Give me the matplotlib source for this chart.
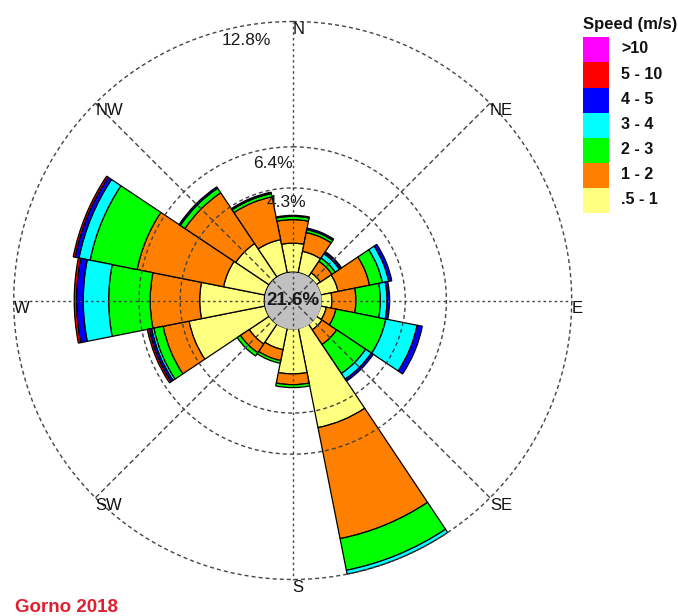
import numpy as np
import matplotlib
matplotlib.use("Agg")
import matplotlib.pyplot as plt
from matplotlib.patches import Rectangle

plt.rcParams['font.family'] = ['Liberation Sans', 'DejaVu Sans']

# ---- wind rose data: frequency (%) per direction sector and speed class ----
directions = ["N", "NNE", "NE", "ENE", "E", "ESE", "SE", "SSE",
              "S", "SSW", "SW", "WSW", "W", "WNW", "NW", "NNW"]
freq_05_1 = [1.48, 1.11, 0.25, 0.91, 0.55, 0.30, 0.35, 5.17,
             2.30, 1.11, 1.22, 3.95, 3.30, 2.15, 2.05, 1.72]
freq_1_2 = [1.20, 0.98, 0.71, 1.64, 1.23, 0.50, 0.90, 5.78,
            0.55, 0.57, 0.54, 1.35, 2.53, 4.50, 3.12, 2.23]
freq_2_3 = [0.17, 0.15, 0.20, 0.67, 1.25, 2.60, 1.78, 1.65,
            0.15, 0.14, 0.20, 0.48, 2.12, 2.45, 0.28, 0.17]
freq_3_4 = [0.00, 0.00, 0.26, 0.33, 0.34, 1.63, 0.35, 0.20,
            0.00, 0.00, 0.00, 0.12, 1.30, 0.58, 0.00, 0.00]
freq_4_5 = [0.05, 0.08, 0.10, 0.16, 0.13, 0.27, 0.12, 0.00,
            0.00, 0.00, 0.00, 0.12, 0.34, 0.20, 0.08, 0.07]
freq_5_10 = [0.00, 0.00, 0.03, 0.00, 0.00, 0.00, 0.00, 0.00,
             0.00, 0.00, 0.00, 0.10, 0.12, 0.10, 0.00, 0.00]
freq_gt10 = [0.00] * 16
calm_pct = 21.6
ring_values = [4.3, 6.4, 12.8]
compass_labels = ["N", "NE", "E", "SE", "S", "SW", "W", "NW"]
speed_labels = [">10", "5 - 10", "4 - 5", "3 - 4", "2 - 3", "1 - 2", ".5 - 1"]
speed_colors = ["#ff00ff", "#ff0000", "#0000ff", "#00ffff",
                "#00ff00", "#ff8000", "#ffff80"]
title_text = "Gorno 2018"

# ---- figure / polar axes geometry ----
W, H = 678, 616
fig = plt.figure(figsize=(W / 100, H / 100), dpi=100)
calm_r = 1.45                       # radius of the calm disc (in % units)
r_outer = calm_r + ring_values[-1]  # outermost ring
cx, cy, R_px = 292.7, 300.5, 279.0  # centre and outer-ring radius in pixels
lim = 15.0
R_ax = R_px * lim / r_outer
ax = fig.add_axes([(cx - R_ax) / W, (H - cy - R_ax) / H, 2 * R_ax / W, 2 * R_ax / H],
                  projection='polar')
ax.set_theta_zero_location('N')
ax.set_theta_direction(-1)
ax.set_ylim(0, lim)
ax.set_axis_off()

# ---- stacked sector bars ----
theta = np.deg2rad(np.arange(len(directions)) * 22.5)
width = np.deg2rad(22.5)
classes_inner_to_outer = [freq_05_1, freq_1_2, freq_2_3, freq_3_4,
                          freq_4_5, freq_5_10, freq_gt10]
colors_inner_to_outer = speed_colors[::-1]
bottom = np.full(len(directions), calm_r)
for vals, col in zip(classes_inner_to_outer, colors_inner_to_outer):
    vals = np.asarray(vals, dtype=float)
    m = vals > 0
    if m.any():
        ax.bar(theta[m], vals[m], width=width, bottom=bottom[m], color=col,
               edgecolor='black', linewidth=0.9, zorder=2)
    bottom += vals

# ---- calm disc ----
tt = np.linspace(0, 2 * np.pi, 721)
ax.fill_between(tt, 0, calm_r, color='#c0c0c0', linewidth=0, zorder=2.5)

# ---- dashed rings and spokes ----
grid_col = '#444444'
for v in ring_values:
    ax.plot(tt, np.full_like(tt, calm_r + v), color=grid_col, lw=1.0,
            ls=(0, (2.9, 2.2)), zorder=3)
for k, name in enumerate(compass_labels):
    th = np.deg2rad(k * 45)
    dash = (1.8, 2.2) if k % 2 == 0 else (3.6, 2.2)
    ax.plot([th, th], [0, r_outer], color=grid_col, lw=1.0,
            ls=(0, dash), zorder=3)
    ax.text(th, r_outer, name, ha='left', va='top', fontsize=12,
            color='#111111', clip_on=False, zorder=4)

# ---- ring labels ----
ring_label_pos = {12.8: (349.8, 13.47), 6.4: (351.8, 7.09), 4.3: (356.1, 5.04)}
for v in ring_values:
    b, r = ring_label_pos[v]
    ax.text(np.deg2rad(b), r, f"{v:.1f}%", ha='center', va='center',
            fontsize=12.5, color='#1a1a1a', zorder=4, clip_on=False)
ax.text(0, 0, f"{calm_pct:.1f}%", ha='center', va='center', fontsize=13.5,
        fontweight='bold', color='#1a1a1a', zorder=4)

# ---- legend ----
fig.text(583 / W, 1 - 25 / H, "Speed (m/s)", ha='left', va='center',
         fontsize=12, fontweight='bold', color='#111111')
box_h = 25.15
for i, (lab, col) in enumerate(zip(speed_labels, speed_colors)):
    y_top = 37.3 + box_h * i
    fig.add_artist(Rectangle((583 / W, 1 - (y_top + box_h) / H), 26 / W, box_h / H,
                             transform=fig.transFigure, facecolor=col,
                             edgecolor='none'))
    fig.text(621 / W, 1 - (y_top + box_h / 2 - 1) / H, lab, ha='left',
             va='center', fontsize=11.5, fontweight='bold', color='#111111')

fig.text(15 / W, 1 - 607.5 / H, title_text, ha='left', va='center',
         fontsize=13.5, fontweight='bold', color='#e02030')

fig.savefig("out.png", dpi=100)
